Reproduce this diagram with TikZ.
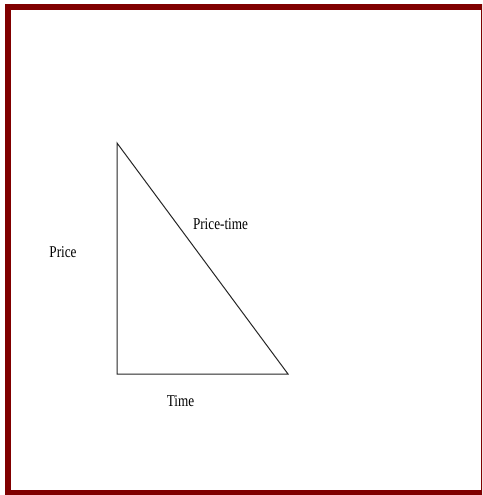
\documentclass[tikz,border=0pt]{standalone}
\usepackage{fontspec}
\setmainfont{Liberation Serif}
\definecolor{frame}{HTML}{800000}
\begin{document}
\begin{tikzpicture}[x=1pt,y=-1pt,
  lbl/.style={inner sep=0pt,anchor=base,font=\fontsize{16.5}{18}\selectfont},
  edge/.style={line width=1pt,draw=black!85}]
\useasboundingbox (0,0) rectangle (482,495);
\clip (0,0) rectangle (482,495);
\fill[white] (0,0) rectangle (482,495);
\draw[frame,line width=6pt] (8,7) rectangle (484,493);
\coordinate (top) at (117,143);
\coordinate (corner) at (117,374);
\coordinate (right) at (288,374);
\draw[edge] (top) -- (corner) -- (right) -- cycle;
\node[lbl] (price) at (63,257) {\scalebox{0.8}[1]{Price}};
\node[lbl] (pricetime) at (220.5,229) {\scalebox{0.8}[1]{Price-time}};
\node[lbl] (time) at (180.5,406) {\scalebox{0.8}[1]{Time}};
\end{tikzpicture}
\end{document}
